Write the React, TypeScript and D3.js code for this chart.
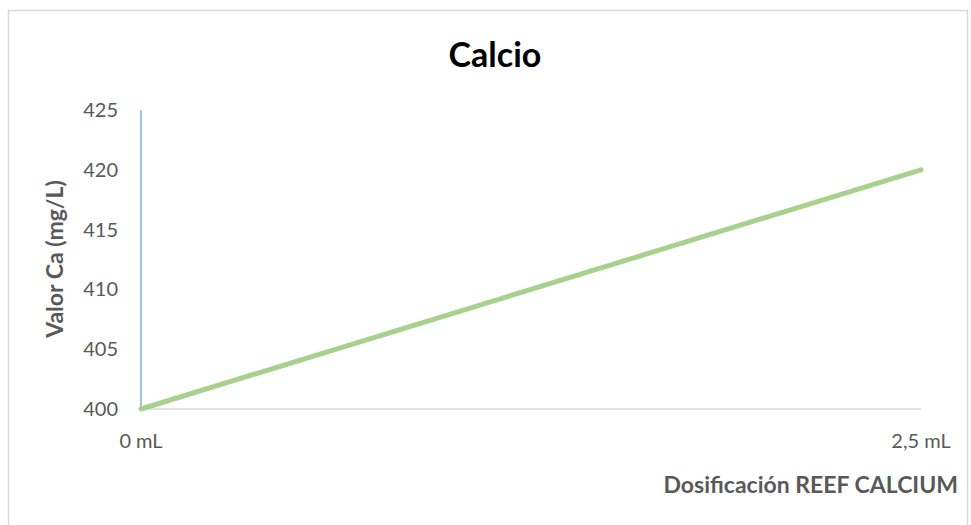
import React from 'react';
import * as d3 from 'd3';

const doses = ['0 mL', '2,5 mL'];
const calcium = [400, 420];
const yTicks = [400, 405, 410, 415, 420, 425];

const W = 971;
const H = 525;
const FONT = 'Lato, Calibri, "Open Sans", sans-serif';

export default function App() {
  const x = d3.scalePoint<string>().domain(doses).range([141, 921]);
  const y = d3.scaleLinear().domain([400, 425]).range([409, 110]);

  const line = d3.line<number>()
    .x((d, i) => x(doses[i]) as number)
    .y(d => y(d));

  return (
    <div style={{ position: 'fixed', left: 0, top: 0 }}>
      <svg width={W} height={H} style={{ display: 'block', background: '#fff' }}>
        <rect x={8.5} y={10.5} width={959} height={540} fill="#fff" stroke="#d9d9d9" strokeWidth={1.5} />

        <text x={495} y={67} textAnchor="middle" fontFamily={FONT} fontWeight={700} fontSize={34} fill="#000">Calcio</text>

        {/* y ticks */}
        {yTicks.map(t => (
          <text key={t} x={118} y={y(t) + 7} textAnchor="end" fontFamily={FONT} fontSize={20} fill="#595959">{t}</text>
        ))}

        {/* x axis line */}
        <line x1={141} x2={921} y1={y(400)} y2={y(400)} stroke="#d9d9d9" strokeWidth={1.5} />
        {/* y axis line */}
        <line x1={141} x2={141} y1={y(425)} y2={y(400)} stroke="#9dc3e6" strokeWidth={2} />

        {doses.map(d => (
          <text key={d} x={x(d)} y={448} textAnchor="middle" fontFamily={FONT} fontSize={20} fill="#595959">{d}</text>
        ))}

        <path d={line(calcium) || ''} fill="none" stroke="#a9d18e" strokeWidth={5} strokeLinecap="round" />

        <text transform={`translate(63,259) rotate(-90)`} textAnchor="middle" fontFamily={FONT} fontWeight={700} fontSize={23} fill="#595959">Valor Ca (mg/L)</text>
        <text x={958} y={493} textAnchor="end" fontFamily={FONT} fontWeight={700} fontSize={23} fill="#595959">Dosificación REEF CALCIUM</text>
      </svg>
    </div>
  );
}
